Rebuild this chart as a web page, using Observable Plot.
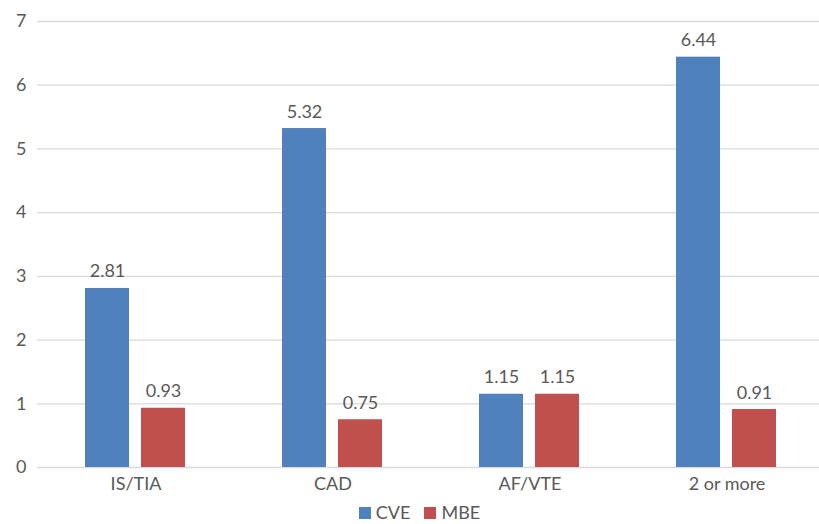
<!DOCTYPE html>
<html>
<head>
<meta charset="utf-8">
<script src="https://cdn.jsdelivr.net/npm/d3@7"></script>
<script src="https://cdn.jsdelivr.net/npm/@observablehq/plot@0.6"></script>
<style>
  html, body { margin: 0; background: #fff; font-family: Lato, "Open Sans", sans-serif; overflow: hidden; width: 819px; }
  #legend { display: flex; justify-content: center; align-items: center; gap: 14px; font-size: 18px; color: #595959; height: 24px; padding-left: 20px; }
  .sw { display: inline-block; width: 12px; height: 12px; margin-right: 5px; vertical-align: 0px; }
</style>
</head>
<body>
<div id="chart" style="width:819px;overflow:hidden"></div>
<div id="legend"></div>
<script>
const categories = ["IS/TIA", "CAD", "AF/VTE", "2 or more"];
const series = ["CVE", "MBE"];
const cveValues = [2.81, 5.32, 1.15, 6.44];
const mbeValues = [0.93, 0.75, 1.15, 0.91];
const colors = ["#4F81BD", "#C0504D"];
const yTicks = [0, 1, 2, 3, 4, 5, 6, 7];

const data = [];
categories.forEach((c, i) => {
  data.push({category: c, series: "CVE", value: cveValues[i]});
  data.push({category: c, series: "MBE", value: mbeValues[i]});
});

const chart = Plot.plot({
  width: 826,
  height: 500,
  marginLeft: 36,
  marginRight: 0,
  marginTop: 21,
  marginBottom: 33,
  style: {fontFamily: "Lato, 'Open Sans', sans-serif", fontSize: "18px", color: "#595959", background: "#fff", maxWidth: "none"},
  fx: {domain: categories, padding: 0, label: null, axis: null},
  x: {domain: series, paddingInner: 0.214, paddingOuter: 0.857, axis: null},
  y: {domain: [0, 7], ticks: yTicks, label: null},
  color: {domain: series, range: colors},
  marks: [
    Plot.gridY(yTicks, {stroke: "#d9d9d9", strokeOpacity: 1, strokeWidth: 1.3}),
    Plot.axisY(yTicks, {tickSize: 0, tickPadding: 11, fontSize: 18, fill: "#595959", label: null, tickFormat: d3.format("d")}),
    Plot.axisFx({anchor: "bottom", tickSize: 0, tickPadding: 10, fontSize: 18, fill: "#595959", label: null}),
    Plot.barY(data, {fx: "category", x: "series", y: "value", fill: "series"}),
    Plot.text(data, {fx: "category", x: "series", y: "value", text: d => d.value.toFixed(2), lineAnchor: "bottom", dy: -11, fill: "#595959", fontSize: 18})
  ]
});
document.getElementById("chart").appendChild(chart);

const legend = document.getElementById("legend");
series.forEach((s, i) => {
  const item = document.createElement("span");
  item.innerHTML = `<span class="sw" style="background:${colors[i]}"></span>${s}`;
  legend.appendChild(item);
});
</script>
</body>
</html>
